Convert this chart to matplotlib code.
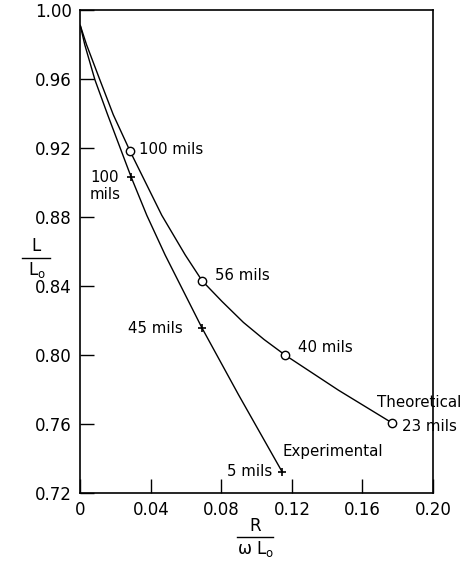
import matplotlib
matplotlib.use("Agg")
import matplotlib.pyplot as plt
from matplotlib.lines import Line2D

# ---- data ----
theo_x = [0.0, 0.0035, 0.0111, 0.0187, 0.0283, 0.0462, 0.0595, 0.0691, 0.0804, 0.0925, 0.1042, 0.1161, 0.1464, 0.177]
theo_y = [0.991, 0.980, 0.9595, 0.9393, 0.918, 0.881, 0.858, 0.843, 0.831, 0.8189, 0.809, 0.800, 0.7796, 0.7605]
theo_mark_x = [0.0283, 0.0691, 0.1161, 0.177]
theo_mark_y = [0.918, 0.843, 0.800, 0.7605]

exp_x = [0.0, 0.0025, 0.0083, 0.0155, 0.0289, 0.0377, 0.0481, 0.0691, 0.0897, 0.1146]
exp_y = [0.991, 0.980, 0.9595, 0.9393, 0.903, 0.881, 0.858, 0.8155, 0.777, 0.732]
exp_mark_x = [0.0289, 0.0691, 0.1146]
exp_mark_y = [0.903, 0.8155, 0.732]

xticks = [0, 0.04, 0.08, 0.12, 0.16, 0.20]
xticklabels = ["0", "0.04", "0.08", "0.12", "0.16", "0.20"]
yticks = [0.72, 0.76, 0.80, 0.84, 0.88, 0.92, 0.96, 1.00]
yticklabels = ["0.72", "0.76", "0.80", "0.84", "0.88", "0.92", "0.96", "1.00"]

labels = [
    ("100 mils", 0.0333, 0.919),
    ("100\nmils", 0.0055, 0.898),
    ("56 mils", 0.0764, 0.846),
    ("45 mils", 0.027, 0.8155),
    ("40 mils", 0.1234, 0.8045),
    ("Theoretical", 0.1680, 0.7726),
    ("23 mils", 0.1824, 0.7588),
    ("Experimental", 0.1144, 0.7443),
    ("5 mils", 0.0832, 0.7327),
]

plt.rcParams["font.family"] = ["DejaVu Sans"]
plt.rcParams["mathtext.fontset"] = "dejavusans"
plt.rcParams["mathtext.default"] = "regular"

fig = plt.figure(figsize=(4.65, 5.63), dpi=100)
ax = fig.add_axes([0.1727, 0.1243, 0.9312 - 0.1727, 0.9822 - 0.1243])

ax.plot(theo_x, theo_y, color="black", lw=1.0, solid_joinstyle="round")
ax.plot(exp_x, exp_y, color="black", lw=1.0, solid_joinstyle="round")
ax.plot(theo_mark_x, theo_mark_y, "o", ms=6, mfc="white", mec="black", mew=1.0, zorder=3)
ax.plot(exp_mark_x, exp_mark_y, "+", ms=6, mec="black", mew=1.2, zorder=3)

for txt, x, y in labels:
    ax.text(x, y, txt, ha="left", va="center", fontsize=10.8, linespacing=1.15)

ax.set_xlim(0, 0.20)
ax.set_ylim(0.72, 1.00)
ax.set_xticks(xticks)
ax.set_xticklabels(xticklabels)
ax.set_yticks(yticks)
ax.set_yticklabels(yticklabels)
ax.tick_params(direction="in", length=10, width=1.0, labelsize=12, pad=6,
               top=False, right=False)
for s in ax.spines.values():
    s.set_linewidth(1.2)

# axis labels as fractions
fig.text(36 / 465, 1 - 246 / 563, "L", ha="center", va="center", fontsize=12)
fig.text(37 / 465, 1 - 270 / 563, r"L$_\mathregular{o}$", ha="center", va="center", fontsize=12)
fig.add_artist(Line2D([22 / 465, 50 / 465], [1 - 258 / 563, 1 - 258 / 563],
                      color="black", lw=1.0, transform=fig.transFigure))

fig.text(255 / 465, 1 - 526 / 563, "R", ha="center", va="center", fontsize=12)
fig.text(256 / 465, 1 - 549 / 563, r"ω L$_\mathregular{o}$", ha="center", va="center", fontsize=12)
fig.add_artist(Line2D([237 / 465, 273 / 465], [1 - 537 / 563, 1 - 537 / 563],
                      color="black", lw=1.0, transform=fig.transFigure))

fig.savefig("out.png", dpi=100)
